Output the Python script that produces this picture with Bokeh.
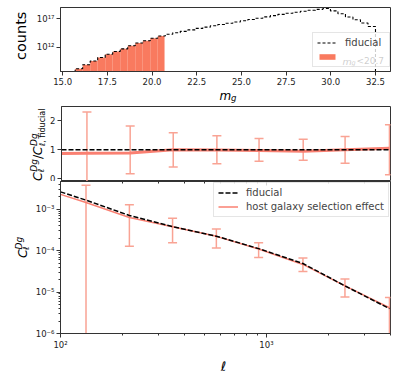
import numpy as np
from bokeh.plotting import figure
from bokeh.models import (Range1d, FixedTicker, CustomJSTickFormatter, NumeralTickFormatter,
                          Label, Legend, LegendItem, LogAxis)
from bokeh.layouts import column, row
from bokeh.embed import file_html
from bokeh.resources import INLINE

# ---------------- data ----------------
mag_first_edge = 15.7
mag_last_edge = 32.5
mag_n_bins = 40
mag_cut = 20.7
log10_counts = [8.31, 9.01, 9.65, 10.25, 10.83, 11.30, 11.76, 12.29, 12.77, 13.17, 13.60, 14.00,
                14.30, 14.55, 14.80, 15.05, 15.31, 15.53, 15.76, 15.98, 16.20, 16.42, 16.64, 16.86,
                17.08, 17.31, 17.53, 17.75, 17.93, 18.11, 18.29, 18.47, 18.62, 18.76, 18.35, 17.85,
                17.30, 16.82, 16.24, 15.64]
mag_ticks = [15.0, 17.5, 20.0, 22.5, 25.0, 27.5, 30.0, 32.5]
count_ticks = [1e12, 1e17]

ell_bins = [133, 216, 350, 571, 916, 1503, 2404, 3953]
rel_err = [1.30, 0.82, 0.59, 0.48, 0.39, 0.36, 0.46, 0.86]
ell_curve = [100, 133, 216, 350, 571, 916, 1503, 2404, 3953]
log10_cl_fid = [-2.58, -2.78, -3.15, -3.42, -3.65, -3.95, -4.31, -4.85, -5.40]
ratio_host = [0.87, 0.88, 0.89, 1.00, 0.99, 0.98, 0.95, 1.00, 1.05]
ratio_ticks = [0, 1, 2]
ell_ticks = [100, 1000]
ell_minor = [200, 300, 400, 500, 600, 700, 800, 900, 2000, 3000, 4000]
cl_ticks = [1e-6, 1e-5, 1e-4, 1e-3]
cl_minor = [m * 10.0 ** e for e in (-6, -5, -4, -3) for m in range(2, 10)]

# ---------------- style ----------------
FONT = "DejaVu Sans"
SALMON = "#fa8072"
FILL = "#f97a5f"
ERR = "#f9a394"
TICK_FS = "8.5px"
FRAME = "#333333"
FL = 60  # absolute frame left (page pixels)
JS_SUP = """
const sup = {"-": "\\u207b", "0": "\\u2070", "1": "\\u00b9", "2": "\\u00b2", "3": "\\u00b3",
             "4": "\\u2074", "5": "\\u2075", "6": "\\u2076", "7": "\\u2077", "8": "\\u2078", "9": "\\u2079"};
const e = Math.round(Math.log10(tick));
return "10" + String(e).split("").map(c => sup[c]).join("");
"""


def style_axes(p):
    p.grid.visible = False
    p.outline_line_color = FRAME
    p.outline_line_width = 1
    for ax in p.axis:
        ax.axis_line_color = FRAME
        ax.major_tick_line_color = FRAME
        ax.minor_tick_line_color = FRAME
        ax.major_tick_out = 4
        ax.major_tick_in = 0
        ax.minor_tick_out = 2
        ax.minor_tick_in = 0
        ax.major_label_text_font = FONT
        ax.major_label_text_font_size = TICK_FS
        ax.major_label_text_color = "#222222"
        ax.major_label_standoff = 2


def strip(w, h):
    s = figure(width=w, height=h, x_range=Range1d(0, w), y_range=Range1d(h, 0),
               output_backend="svg", toolbar_location=None, min_border=0,
               x_axis_location=None, y_axis_location=None, outline_line_color=None)
    s.grid.visible = False
    return s


def slab(s, text, x, y, size, angle=0.0, italic=False, align="left", baseline="alphabetic"):
    s.add_layout(Label(x=x, y=y, text=text, text_font=FONT, text_font_size=f"{size}px",
                       text_font_style="italic" if italic else "normal", angle=angle,
                       text_align=align, text_baseline=baseline, text_color="black"))


def flab(p, text, xa, ya, fb, size, italic=False):
    p.add_layout(Label(x=xa - FL, y=fb - ya, x_units="screen", y_units="screen", text=text,
                       text_font=FONT, text_font_size=f"{size}px",
                       text_font_style="italic" if italic else "normal",
                       text_baseline="alphabetic", text_color="black", level="overlay"))


V = np.pi / 2

# ---------------- row A: histogram (page y 0-88) ----------------
edges = np.linspace(mag_first_edge, mag_last_edge, mag_n_bins + 1)
counts = 10.0 ** np.array(log10_counts)
floor = 1e5
step_x = np.repeat(edges, 2)
step_y = np.concatenate([[floor], np.repeat(counts, 2), [floor]])
sel = edges[:-1] < mag_cut

p1 = figure(width=362, height=88, x_range=Range1d(14.88, 33.34),
            y_range=Range1d(10 ** 7.83, 10 ** 18.94), y_axis_type="log",
            output_backend="svg", toolbar_location=None,
            min_border_left=28, min_border_right=4, min_border_top=7, min_border_bottom=17)
style_axes(p1)
r_fill = p1.quad(left=edges[:-1][sel], right=np.minimum(edges[1:], mag_cut)[sel],
                 top=counts[sel], bottom=floor, fill_color=FILL, line_color=None)
r_step = p1.line(step_x, step_y, line_color="black", line_width=1.1, line_dash="3 2")
p1.xaxis.ticker = FixedTicker(ticks=mag_ticks, minor_ticks=[])
p1.xaxis.formatter = NumeralTickFormatter(format="0.0")
p1.yaxis.ticker = FixedTicker(ticks=count_ticks, minor_ticks=[])
p1.yaxis.formatter = CustomJSTickFormatter(code=JS_SUP)
leg1 = Legend(items=[LegendItem(label="fiducial", renderers=[r_step]),
                     LegendItem(label=" ", renderers=[r_fill])],
              location=(252, 4), label_text_font=FONT, label_text_font_size="10px",
              glyph_width=20, glyph_height=7, label_standoff=8, spacing=3, padding=4,
              label_width=40, border_line_color="#cccccc", background_fill_alpha=0.8,
              label_height=11, margin=0)
p1.add_layout(leg1)
flab(p1, "m", 342, 60.5, 71, 9.5, italic=True)
flab(p1, "g", 351, 62.5, 71, 6.5, italic=True)
flab(p1, "<20.7", 356, 60.5, 71, 9)

sA = strip(32, 88)
slab(sA, "counts", 20, 39, 14.5, angle=V, align="center", baseline="middle")

# ---------------- m_g strip (page y 88-104) ----------------
sM = strip(394, 16)
slab(sM, "m", 219, 7, 12, italic=True)
slab(sM, "g", 230.5, 9.5, 8.5, italic=True)

# ---------------- row C: ratio (page y 104-181) ----------------
ell_b = np.array(ell_bins, dtype=float)
err = np.array(rel_err)
p2 = figure(width=347, height=77, x_axis_type="log", x_range=Range1d(100, 4000),
            y_range=Range1d(-0.09, 2.49), output_backend="svg", toolbar_location=None,
            min_border_left=13, min_border_right=4, min_border_top=2, min_border_bottom=0)
style_axes(p2)
p2.xaxis.visible = False
p2.yaxis.major_label_text_baseline = "alphabetic"
p2.segment(x0=ell_b, y0=1 - err, x1=ell_b, y1=1 + err, line_color=ERR, line_width=1.5)
p2.scatter(x=ell_b, y=1 + err, marker="dash", size=9, line_color=ERR, line_width=1.5)
p2.scatter(x=ell_b, y=1 - err, marker="dash", size=9, line_color=ERR, line_width=1.5)
p2.line(ell_curve, ratio_host, line_color=SALMON, line_width=3)
p2.line(ell_curve, np.ones(len(ell_curve)), line_color="black", line_width=1.5, line_dash="5 2")
p2.yaxis.ticker = FixedTicker(ticks=ratio_ticks, minor_ticks=[])

sC = strip(47, 77)
oy = 104
slab(sC, "C", 37, 180.5 - oy, 12.5, angle=V, italic=True)
slab(sC, "\u2113", 40, 171.5 - oy, 8.5, angle=V, italic=True)
slab(sC, "Dg", 33, 171 - oy, 9, angle=V, italic=True)
slab(sC, "/", 37, 158 - oy, 12.5, angle=V)
slab(sC, "C", 37, 154 - oy, 12.5, angle=V, italic=True)
slab(sC, "\u2113, fiducial", 42, 144.5 - oy, 8, angle=V)
slab(sC, "Dg", 33, 144.5 - oy, 9, angle=V, italic=True)

# ---------------- row D: spectra (page y 181-352) ----------------
cl_fid_curve = 10.0 ** np.array(log10_cl_fid)
cl_host_curve = cl_fid_curve * np.array(ratio_host)
cl_fid_bins = cl_fid_curve[1:]
hi = cl_fid_bins * (1 + err)
lo_raw = cl_fid_bins * (1 - err)
lo = np.where(lo_raw > 0, lo_raw, 1e-9)

p3 = figure(width=364, height=171, x_axis_type="log", y_axis_type="log",
            x_range=Range1d(100, 4000), y_range=Range1d(1e-6, 10 ** -2.33),
            output_backend="svg", toolbar_location=None,
            min_border_left=30, min_border_right=4, min_border_top=0, min_border_bottom=18)
top_ax = LogAxis(ticker=FixedTicker(ticks=ell_ticks, minor_ticks=ell_minor))
p3.add_layout(top_ax, "above")
style_axes(p3)
top_ax.major_tick_out = 0
top_ax.major_tick_in = 4
top_ax.minor_tick_out = 0
top_ax.minor_tick_in = 2
top_ax.major_label_text_font_size = "0.1px"
top_ax.major_label_text_alpha = 0
top_ax.major_label_standoff = 0
top_ax.axis_line_color = None
p3.segment(x0=ell_b, y0=lo, x1=ell_b, y1=hi, line_color=ERR, line_width=1.5)
p3.scatter(x=ell_b, y=hi, marker="dash", size=9, line_color=ERR, line_width=1.5)
p3.scatter(x=ell_b[lo_raw > 0], y=lo[lo_raw > 0], marker="dash", size=9, line_color=ERR, line_width=1.5)
r_host = p3.line(ell_curve, cl_host_curve, line_color=SALMON, line_width=1.5)
r_fid = p3.line(ell_curve, cl_fid_curve, line_color="black", line_width=1.5, line_dash="5 2")
p3.xaxis[1].ticker = FixedTicker(ticks=ell_ticks, minor_ticks=ell_minor)
p3.xaxis[1].formatter = CustomJSTickFormatter(code=JS_SUP)
p3.yaxis.ticker = FixedTicker(ticks=cl_ticks, minor_ticks=cl_minor)
p3.yaxis.formatter = CustomJSTickFormatter(code=JS_SUP)
leg3 = Legend(items=[LegendItem(label="fiducial", renderers=[r_fid]),
                     LegendItem(label="host galaxy selection effect", renderers=[r_host])],
              location=(153, 116), label_text_font=FONT, label_text_font_size="10px",
              glyph_width=20, glyph_height=7, label_standoff=8, spacing=3, padding=4,
              border_line_color="#cccccc", background_fill_alpha=0.8,
              label_height=11, margin=0)
p3.add_layout(leg3)

sD = strip(30, 171)
oy = 181
slab(sD, "C", 22, 267 - oy, 12.5, angle=V, italic=True)
slab(sD, "\u2113", 25, 258 - oy, 8.5, angle=V, italic=True)
slab(sD, "Dg", 18, 257.5 - oy, 9, angle=V, italic=True)

# ---------------- ell strip (page y 352-376) ----------------
sL = strip(394, 24)
slab(sL, "\u2113", 223, 14, 13, italic=True, align="center")

layout = column(row(sA, p1, spacing=0), sM, row(sC, p2, spacing=0),
                row(sD, p3, spacing=0), sL, spacing=0)
open("out.html", "w").write(file_html(layout, INLINE))
